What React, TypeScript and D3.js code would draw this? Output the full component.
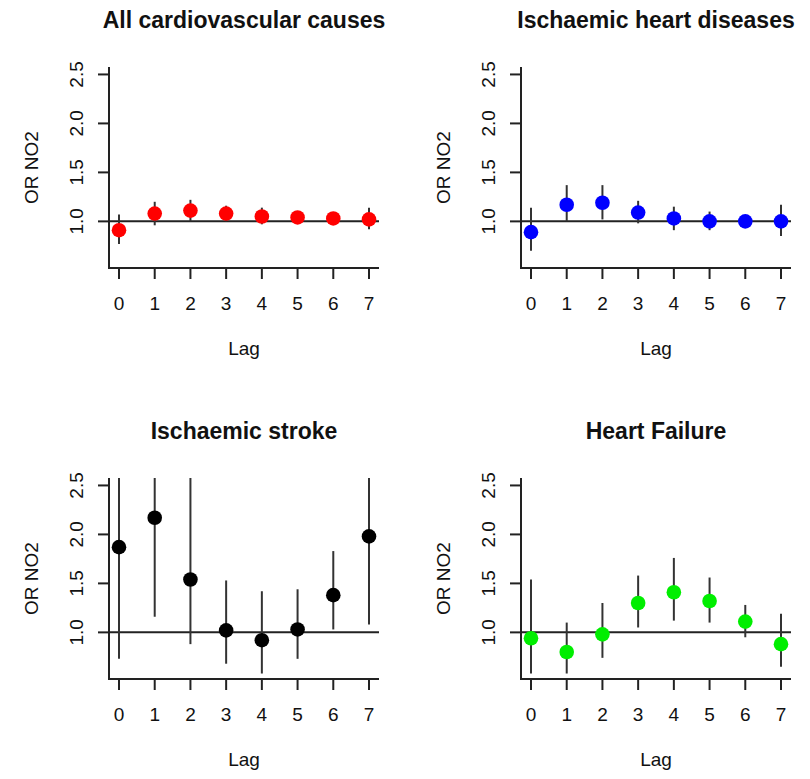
import React, { useEffect, useRef } from "react";
import * as d3 from "d3";

const lags = [0, 1, 2, 3, 4, 5, 6, 7];
const yTicks = [1.0, 1.5, 2.0, 2.5];

const titles = [
  "All cardiovascular causes",
  "Ischaemic heart diseases",
  "Ischaemic stroke",
  "Heart Failure",
];
const colors = ["#ff0000", "#0000ff", "#000000", "#00ee00"];

// odds ratios and 95% CI per lag
const cvdOR = [0.91, 1.08, 1.11, 1.08, 1.05, 1.04, 1.03, 1.02];
const cvdLow = [0.77, 0.96, 1.0, 1.0, 0.97, 0.98, 0.98, 0.92];
const cvdHigh = [1.07, 1.2, 1.22, 1.16, 1.14, 1.1, 1.08, 1.14];

const ihdOR = [0.89, 1.17, 1.19, 1.09, 1.03, 1.0, 1.0, 1.0];
const ihdLow = [0.7, 1.0, 1.02, 0.98, 0.91, 0.91, 0.94, 0.85];
const ihdHigh = [1.14, 1.37, 1.37, 1.21, 1.15, 1.1, 1.06, 1.17];

const strokeOR = [1.87, 2.17, 1.54, 1.02, 0.92, 1.03, 1.38, 1.98];
const strokeLow = [0.73, 1.16, 0.88, 0.68, 0.58, 0.73, 1.03, 1.08];
const strokeHigh = [4.2, 4.1, 2.7, 1.53, 1.42, 1.44, 1.83, 3.6];

const hfOR = [0.94, 0.8, 0.98, 1.3, 1.41, 1.32, 1.11, 0.88];
const hfLow = [0.58, 0.58, 0.74, 1.05, 1.12, 1.1, 0.95, 0.65];
const hfHigh = [1.54, 1.1, 1.3, 1.58, 1.76, 1.56, 1.28, 1.19];

const series = [
  { or: cvdOR, low: cvdLow, high: cvdHigh },
  { or: ihdOR, low: ihdLow, high: ihdHigh },
  { or: strokeOR, low: strokeLow, high: strokeHigh },
  { or: hfOR, low: hfLow, high: hfHigh },
];

const App = () => {
  const ref = useRef(null);

  useEffect(() => {
    const svg = d3.select(ref.current);
    svg.selectAll("*").remove();

    const plotW = 270;
    const plotH = 201;
    const origins = [
      [109, 67],
      [521, 67],
      [109, 478],
      [521, 478],
    ];
    const ink = "#222";
    const font = "Liberation Sans, Arial, sans-serif";

    series.forEach((s, i) => {
      const [left, top] = origins[i];
      const x = d3.scaleLinear().domain([-0.28, 7.28]).range([left, left + plotW]);
      const y = d3.scaleLinear().domain([0.524, 2.576]).range([top + plotH, top]);
      const g = svg.append("g");

      const clipId = `clip${i}`;
      svg
        .append("clipPath")
        .attr("id", clipId)
        .append("rect")
        .attr("x", left)
        .attr("y", top)
        .attr("width", plotW)
        .attr("height", plotH);

      // title
      g.append("text")
        .attr("x", left + plotW / 2)
        .attr("y", top - 39)
        .attr("text-anchor", "middle")
        .attr("font-family", font)
        .attr("font-weight", "bold")
        .attr("font-size", 23)
        .attr("fill", "#111")
        .text(titles[i]);

      // L-shaped box
      g.append("path")
        .attr("d", `M${left},${top}V${top + plotH}H${left + plotW}`)
        .attr("fill", "none")
        .attr("stroke", ink)
        .attr("stroke-width", 2);

      // x ticks
      g.selectAll(".xt")
        .data(lags)
        .join("line")
        .attr("x1", (d) => x(d))
        .attr("x2", (d) => x(d))
        .attr("y1", top + plotH)
        .attr("y2", top + plotH + 11)
        .attr("stroke", ink)
        .attr("stroke-width", 2);
      g.selectAll(".xl")
        .data(lags)
        .join("text")
        .attr("x", (d) => x(d))
        .attr("y", top + plotH + 42)
        .attr("text-anchor", "middle")
        .attr("font-family", font)
        .attr("font-size", 19)
        .attr("fill", "#111")
        .text((d) => d);

      // y ticks
      g.selectAll(".yt")
        .data(yTicks)
        .join("line")
        .attr("x1", left - 11)
        .attr("x2", left)
        .attr("y1", (d) => y(d))
        .attr("y2", (d) => y(d))
        .attr("stroke", ink)
        .attr("stroke-width", 2);
      g.selectAll(".yl")
        .data(yTicks)
        .join("text")
        .attr("transform", (d) => `translate(${left - 26},${y(d)}) rotate(-90)`)
        .attr("text-anchor", "middle")
        .attr("font-family", font)
        .attr("font-size", 19)
        .attr("fill", "#111")
        .text((d) => d3.format(".1f")(d));

      // axis titles
      g.append("text")
        .attr("x", left + plotW / 2)
        .attr("y", top + plotH + 87)
        .attr("text-anchor", "middle")
        .attr("font-family", font)
        .attr("font-size", 19)
        .attr("fill", "#111")
        .text("Lag");
      g.append("text")
        .attr("transform", `translate(${left - 71},${top + plotH / 2}) rotate(-90)`)
        .attr("text-anchor", "middle")
        .attr("font-family", font)
        .attr("font-size", 19)
        .attr("fill", "#111")
        .text("OR NO2");

      // reference line at OR = 1
      g.append("line")
        .attr("x1", left)
        .attr("x2", left + plotW)
        .attr("y1", y(1))
        .attr("y2", y(1))
        .attr("stroke", ink)
        .attr("stroke-width", 2);

      const marks = g.append("g").attr("clip-path", `url(#${clipId})`);
      marks
        .selectAll("line")
        .data(lags)
        .join("line")
        .attr("x1", (d) => x(d))
        .attr("x2", (d) => x(d))
        .attr("y1", (d, j) => y(s.low[j]))
        .attr("y2", (d, j) => y(s.high[j]))
        .attr("stroke", "#333")
        .attr("stroke-width", 2);
      marks
        .selectAll("circle")
        .data(lags)
        .join("circle")
        .attr("cx", (d) => x(d))
        .attr("cy", (d, j) => y(s.or[j]))
        .attr("r", 7.3)
        .attr("fill", colors[i]);
    });
  }, []);

  return (
    <svg
      ref={ref}
      width={810}
      height={779}
      style={{ position: "absolute", left: 0, top: 0, background: "#fff" }}
    ></svg>
  );
};

export default App;
